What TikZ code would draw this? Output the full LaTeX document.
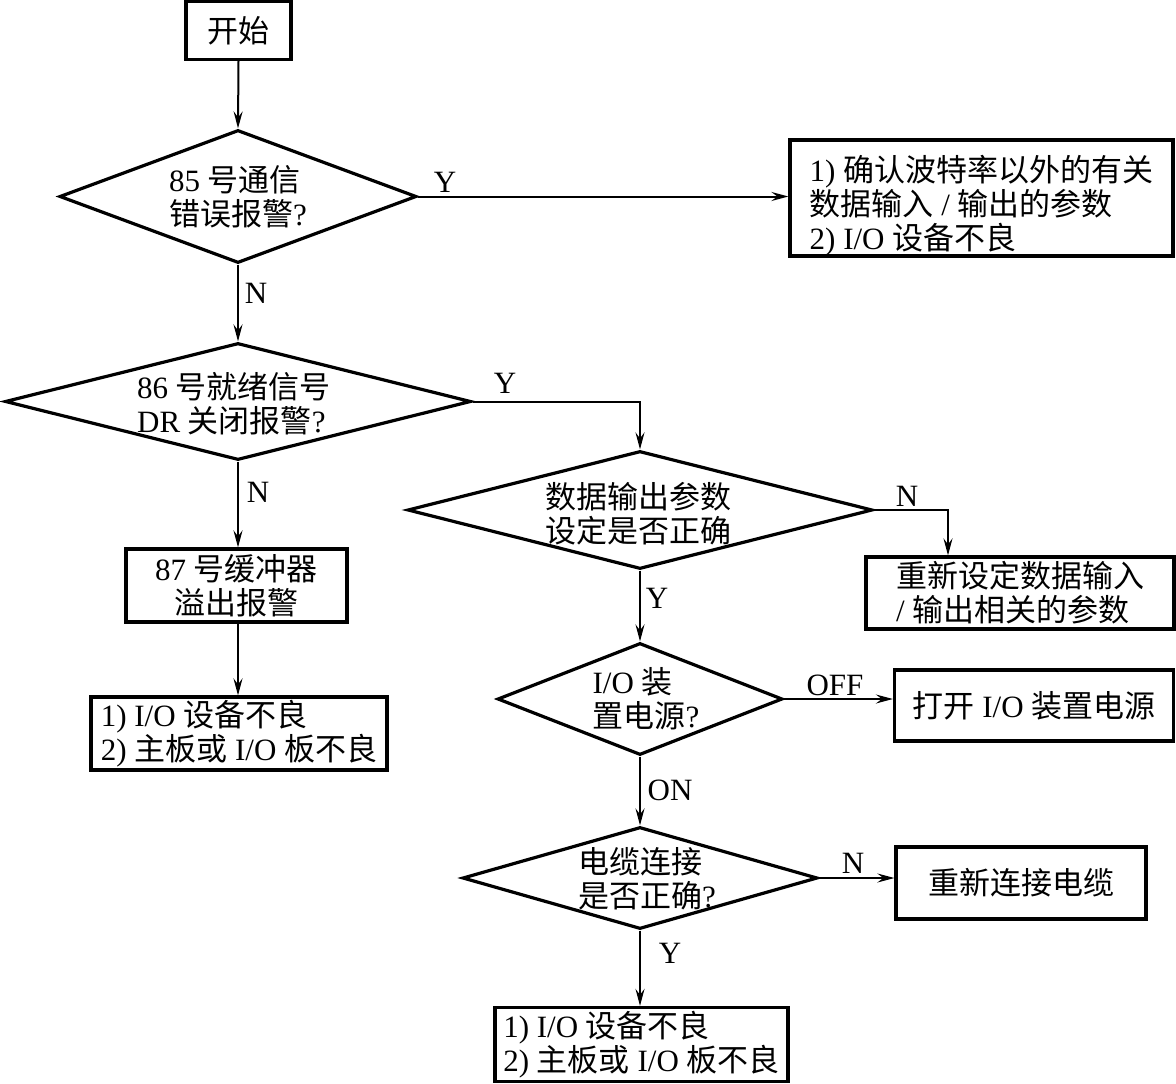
\documentclass[tikz,border=0pt]{standalone}
\usepackage{fontspec}
\setmainfont{Liberation Serif}
\newfontfamily\cjk{Noto Sans CJK SC}
\usetikzlibrary{shapes.geometric,arrows.meta}
\newcommand\zh[1]{{\cjk #1}}
\newcommand\myfs{\fontsize{31}{34}\selectfont}
\tikzset{
  box/.style={draw, line width=3.2pt, rectangle, inner sep=0pt, align=left, font=\myfs},
  dia/.style={draw, line width=3.2pt, diamond, inner sep=0pt},
  txt/.style={inner sep=0pt, align=left, font=\myfs},
  lab/.style={inner sep=0pt, font=\myfs},
  conn/.style={line width=2pt, -{Stealth[length=17pt,width=9pt,inset=6pt]}}
}
\begin{document}
\begin{tikzpicture}[x=1pt,y=-1pt]
\useasboundingbox (0,0) rectangle (1176,1084);

% boxes
\node[box, minimum width=105pt, minimum height=58pt] (start) at (238.5,30.5) {\zh{开始}};
\node[box, minimum width=383pt, minimum height=116pt] (box2) at (981.5,198)
  {\rule{0pt}{41pt}1) \zh{确认波特率以外的有关}\\\zh{数据输入} / \zh{输出的参数}\\2) I/O \zh{设备不良}};
\node[box, minimum width=221pt, minimum height=73pt, align=center] (box87) at (236.5,585.5)
  {87 \zh{号缓冲器}\\\zh{溢出报警}};
\node[box, minimum width=296pt, minimum height=73pt] (boxBL) at (239,733.5)
  {1) I/O \zh{设备不良}\\2) \zh{主板或} I/O \zh{板不良}};
\node[box, minimum width=308pt, minimum height=72pt] (boxR1) at (1020,593)
  {\zh{重新设定数据输入}\\/ \zh{输出相关的参数}};
\node[box, minimum width=279pt, minimum height=71pt] (boxR2) at (1034,705.5)
  {\zh{打开} I/O \zh{装置电源}};
\node[box, minimum width=250pt, minimum height=72pt] (boxR3) at (1021,883)
  {\zh{重新连接电缆}};
\node[box, minimum width=293pt, minimum height=74pt] (boxB) at (641.5,1044.5)
  {1) I/O \zh{设备不良}\\2) \zh{主板或} I/O \zh{板不良}};

% diamonds
\node[dia, minimum width=357pt, minimum height=133pt] (d1) at (238,196.5) {};
\node[dia, minimum width=466pt, minimum height=117pt] (d2) at (238,401.5) {};
\node[dia, minimum width=465pt, minimum height=118pt] (d3) at (640,510) {};
\node[dia, minimum width=285pt, minimum height=112pt] (d4) at (640,699) {};
\node[dia, minimum width=355pt, minimum height=102pt] (d5) at (640,878) {};

% diamond texts
\node[txt] (d1t) at (238,197) {85 \zh{号通信}\\\zh{错误报警}?};
\node[txt] (d2t) at (234,404) {86 \zh{号就绪信号}\\DR \zh{关闭报警}?};
\node[txt] (d3t) at (638,514) {\zh{数据输出参数}\\\zh{设定是否正确}};
\node[txt] (d4t) at (646,699) {I/O \zh{装}\\\zh{置电源}?};
\node[txt] (d5t) at (647,879) {\zh{电缆连接}\\\zh{是否正确}?};

% helper coordinate for the N branch of d3
\coordinate (r1x) at (948,0);

% connectors
\draw[conn] (start.south) -- (d1.north);
\draw[conn] (d1.east) -- (d1.east -| box2.west);
\draw[conn] (d1.south) -- (d2.north);
\draw[conn] (d2.east) -| (d3.north);
\draw[conn] (d2.south) -- (d2.south |- box87.north);
\draw[conn] (box87.south -| d2.south) -- (d2.south |- boxBL.north);
\draw[conn] (d3.east) -| (boxR1.north -| r1x);
\draw[conn] (d3.south) -- (d4.north);
\draw[conn] (d4.east) -- (d4.east -| boxR2.west);
\draw[conn] (d4.south) -- (d5.north);
\draw[conn] (d5.east) -- (d5.east -| boxR3.west);
\draw[conn] (d5.south) -- (d5.south |- boxB.north);

% labels
\node[lab] (lY1) at (445,182) {Y};
\node[lab] (lN1) at (256,293) {N};
\node[lab] (lY2) at (505,383) {Y};
\node[lab] (lN2) at (258,492) {N};
\node[lab] (lN3) at (907,496) {N};
\node[lab] (lY3) at (657,598) {Y};
\node[lab] (lOFF) at (835,685) {OFF};
\node[lab] (lON) at (670,790) {ON};
\node[lab] (lN4) at (853,863) {N};
\node[lab] (lY4) at (670,953) {Y};
\end{tikzpicture}
\end{document}
